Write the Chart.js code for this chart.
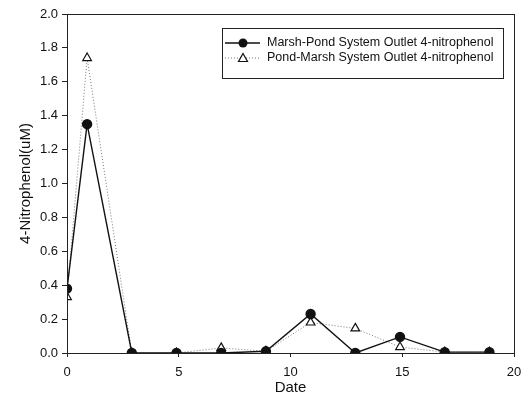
<!DOCTYPE html>
<html>
<head>
<meta charset="utf-8">
<script src="https://cdn.jsdelivr.net/npm/chart.js@4"></script>
<style>
  html, body { margin: 0; padding: 0; background: #fff; }
  #wrap { width: 527px; height: 395px; }
</style>
</head>
<body>
<div id="wrap"><canvas id="myChart" width="527" height="395"></canvas></div>
<script>
const dates = [0, 0.9, 2.9, 4.9, 6.9, 8.9, 10.9, 12.9, 14.9, 16.9, 18.9];
const marshPond = [0.38, 1.35, 0.0, 0.0, 0.0, 0.01, 0.23, 0.0, 0.095, 0.005, 0.005];
const pondMarsh = [0.33, 1.74, 0.0, 0.0, 0.03, 0.01, 0.18, 0.145, 0.035, 0.005, 0.005];
const xTicks = [0, 5, 10, 15, 20];
const seriesNames = ['Marsh-Pond System Outlet 4-nitrophenol', 'Pond-Marsh System Outlet 4-nitrophenol'];

const font = 'Liberation Sans, Arial, sans-serif';

function toPoints(xs, ys) {
  return xs.map((x, i) => ({ x: x, y: ys[i] }));
}

// frame around the plot area + legend box drawn inside it
const framePlugin = {
  id: 'frame',
  afterDraw(chart) {
    const c = chart.ctx;
    const a = chart.chartArea;
    c.save();
    c.strokeStyle = '#222';
    c.lineWidth = 1;
    c.strokeRect(a.left + 0.5, a.top + 0.5, a.right - a.left, a.bottom - a.top);

    // legend
    const bx = 222, by = 28, bw = 281, bh = 50;
    c.fillStyle = '#fff';
    c.fillRect(bx, by, bw, bh);
    c.strokeRect(bx + 0.5, by + 0.5, bw, bh);
    c.font = '12.5px ' + font;
    c.textBaseline = 'middle';
    c.fillStyle = '#111';
    const rows = [by + 15, by + 30];
    // row 1: solid line + filled circle
    c.beginPath();
    c.moveTo(bx + 3, rows[0]); c.lineTo(bx + 38, rows[0]);
    c.strokeStyle = '#111'; c.lineWidth = 1.4; c.stroke();
    c.beginPath(); c.arc(bx + 21, rows[0], 4.5, 0, Math.PI * 2); c.fill();
    c.fillText(seriesNames[0], bx + 45, rows[0]);
    // row 2: dotted line + open triangle
    c.beginPath();
    c.setLineDash([1, 2]);
    c.moveTo(bx + 3, rows[1]); c.lineTo(bx + 38, rows[1]);
    c.strokeStyle = '#777'; c.lineWidth = 1; c.stroke();
    c.setLineDash([]);
    c.beginPath();
    c.moveTo(bx + 21, rows[1] - 4.5); c.lineTo(bx + 25.5, rows[1] + 3.5); c.lineTo(bx + 16.5, rows[1] + 3.5); c.closePath();
    c.fillStyle = '#fff'; c.fill();
    c.strokeStyle = '#111'; c.lineWidth = 1.2; c.stroke();
    c.fillStyle = '#111';
    c.fillText(seriesNames[1], bx + 45, rows[1]);
    c.restore();
  }
};

const ctx = document.getElementById('myChart');

new Chart(ctx, {
  type: 'line',
  data: {
    datasets: [{
      label: seriesNames[0],
      data: toPoints(dates, marshPond),
      borderColor: '#111',
      borderWidth: 1.4,
      backgroundColor: '#111',
      pointStyle: 'circle',
      pointRadius: 4.5,
      pointBackgroundColor: '#111',
      pointBorderColor: '#111',
      tension: 0
    }, {
      label: seriesNames[1],
      data: toPoints(dates, pondMarsh),
      borderColor: '#777',
      borderWidth: 1,
      borderDash: [1, 2],
      pointStyle: 'triangle',
      pointRadius: 5,
      pointBackgroundColor: '#fff',
      pointBorderColor: '#111',
      pointBorderWidth: 1.2,
      tension: 0
    }]
  },
  options: {
    responsive: false,
    animation: false,
    layout: { padding: { top: 14, right: 13, left: 0, bottom: 0 } },
    plugins: {
      legend: { display: false },
      tooltip: { enabled: false }
    },
    scales: {
      x: {
        type: 'linear',
        min: 0,
        max: 20,
        afterBuildTicks: (s) => { s.ticks = xTicks.map(v => ({ value: v })); },
        afterFit: (s) => { s.height = 42; s.paddingLeft = 0; s.paddingRight = 0; },
        grid: { display: true, drawOnChartArea: false, tickLength: 4, color: '#222' },
        border: { color: '#222' },
        ticks: { color: '#111', font: { family: font, size: 13 }, padding: 8, maxRotation: 0 },
        title: { display: true, text: 'Date', color: '#111', font: { family: font, size: 15 }, padding: { top: 0, bottom: -2 } }
      },
      y: {
        min: 0,
        max: 2.0,
        afterFit: (s) => { s.width = 67; s.paddingTop = 0; s.paddingBottom = 0; },
        grid: { display: true, drawOnChartArea: false, tickLength: 5, color: '#222' },
        border: { color: '#222' },
        ticks: {
          stepSize: 0.2,
          color: '#111',
          font: { family: font, size: 13 },
          padding: 4,
          callback: (v) => v.toFixed(1)
        },
        title: { display: true, text: '4-Nitrophenol(uM)', color: '#111', font: { family: font, size: 15 }, padding: { top: 17, bottom: 0 } }
      }
    }
  },
  plugins: [framePlugin]
});
</script>
</body>
</html>
